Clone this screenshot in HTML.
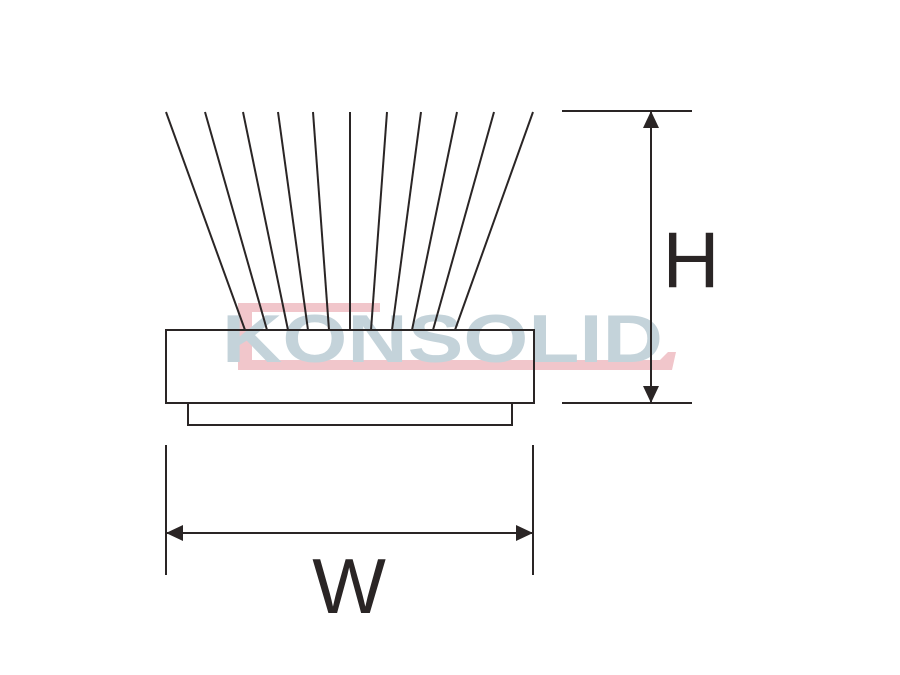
<!DOCTYPE html>
<html><head><style>html,body{margin:0;padding:0;background:#fff}svg{display:block}</style></head>
<body>
<svg width="900" height="675" viewBox="0 0 900 675" xmlns="http://www.w3.org/2000/svg">
<rect width="900" height="675" fill="#fff"/>
<!-- watermark -->
<polygon points="238,303 380,303 380,312 252,312 252,360 660,360 668,352 676,352 672,370 238,370" fill="#f1c6cb"/>
<text x="222" y="362" font-family="Liberation Sans, sans-serif" font-weight="bold" font-size="68" fill="#c4d3da" textLength="441" lengthAdjust="spacingAndGlyphs">KONSOLID</text>
<g stroke="#2a2525" stroke-width="2" fill="none">
<line x1="166" y1="112" x2="245" y2="330"/>
<line x1="205" y1="112" x2="267" y2="330"/>
<line x1="243" y1="112" x2="288" y2="330"/>
<line x1="278" y1="112" x2="308" y2="330"/>
<line x1="313" y1="112" x2="329" y2="330"/>
<line x1="350" y1="112" x2="350" y2="330"/>
<line x1="387" y1="112" x2="371" y2="330"/>
<line x1="421" y1="112" x2="392" y2="330"/>
<line x1="457" y1="112" x2="412" y2="330"/>
<line x1="494" y1="112" x2="433" y2="330"/>
<line x1="533" y1="112" x2="455" y2="330"/>
</g>
<g stroke="#2a2525" stroke-width="2" fill="none">
<rect x="166" y="330" width="368" height="73"/>
<rect x="188" y="403" width="324" height="22"/>
<line x1="562" y1="111" x2="692" y2="111"/>
<line x1="562" y1="403" x2="692" y2="403"/>
<line x1="651" y1="111" x2="651" y2="403"/>
<line x1="166" y1="445" x2="166" y2="575"/>
<line x1="533" y1="445" x2="533" y2="575"/>
<line x1="166" y1="533" x2="533" y2="533"/>
</g>
<g fill="#2a2525">
<polygon points="651,111 643,128 659,128"/>
<polygon points="651,403 643,386 659,386"/>
<polygon points="166,533 183,525 183,541"/>
<polygon points="533,533 516,525 516,541"/>
</g>
<text x="691" y="287" text-anchor="middle" font-family="Liberation Sans, sans-serif" font-size="79" fill="#2a2525">H</text>
<text x="349" y="613" text-anchor="middle" font-family="Liberation Sans, sans-serif" font-size="78" fill="#2a2525">W</text>
</svg>
</body></html>
